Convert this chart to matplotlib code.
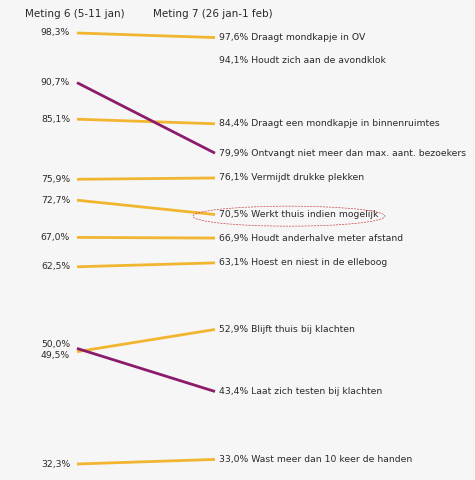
import matplotlib
matplotlib.use("Agg")
import matplotlib.pyplot as plt
from matplotlib.patches import Ellipse

# Naleving van gedragsregels: meting 6 versus meting 7 (percentages)
labels = [
    "Draagt mondkapje in OV",
    "Houdt zich aan de avondklok",
    "Draagt een mondkapje in binnenruimtes",
    "Ontvangt niet meer dan max. aant. bezoekers",
    "Vermijdt drukke plekken",
    "Werkt thuis indien mogelijk",
    "Houdt anderhalve meter afstand",
    "Hoest en niest in de elleboog",
    "Blijft thuis bij klachten",
    "Laat zich testen bij klachten",
    "Wast meer dan 10 keer de handen",
]
meting6 = [98.3, None, 85.1, 90.7, 75.9, 72.7, 67.0, 62.5, 49.5, 50.0, 32.3]
meting7 = [97.6, 94.1, 84.4, 79.9, 76.1, 70.5, 66.9, 63.1, 52.9, 43.4, 33.0]
series_colors = ["orange", "orange", "orange", "purple", "orange", "orange",
                 "orange", "orange", "orange", "purple", "orange"]
headers = ["Meting 6 (5-11 jan)", "Meting 7 (26 jan-1 feb)"]
highlight = "Werkt thuis indien mogelijk"

palette = {"orange": "#f2b530", "purple": "#8c1b6c"}
bg = "#f6f6f6"
txt = "#2a2a2a"
fs = 6.65


def fmt(v):
    return f"{v:.1f}".replace(".", ",") + "%"


W, H = 475, 480
fig = plt.figure(figsize=(W / 100, H / 100), dpi=100, facecolor=bg)
ax = fig.add_axes([0, 0, 1, 1])
ax.set_facecolor(bg)

# pixel layout of the two columns and the value scale
x0_px, x1_px = 77, 215
top_v, top_px, bot_v, bot_px = 98.3, 33, 32.3, 464
ppu = (bot_px - top_px) / (top_v - bot_v)
dx = x1_px - x0_px
ax.set_xlim(-x0_px / dx, (W - x0_px) / dx)
ax.set_ylim(top_v - (H - top_px) / ppu, top_v + top_px / ppu)
ax.axis("off")

# small vertical nudges for left labels that would otherwise overlap
left_nudge = {"Blijft thuis bij klachten": -3, "Laat zich testen bij klachten": 3}

for lab, a, b, c in zip(labels, meting6, meting7, series_colors):
    col = palette[c]
    if a is not None:
        ax.plot([0, 1], [a, b], color=col, lw=2.0, solid_capstyle="butt", zorder=2)
        ax.annotate(fmt(a), xy=(0, a), xytext=(-5, left_nudge.get(lab, 0)),
                    textcoords="offset points", ha="right", va="center",
                    fontsize=fs, color=txt)
    ax.annotate(f"{fmt(b)} {lab}", xy=(1, b), xytext=(3, 0),
                textcoords="offset points", ha="left", va="center",
                fontsize=fs, color=txt)
    if lab == highlight:
        ax.add_patch(Ellipse((1 + 74 / dx, b - 0.25), 192 / dx, 20 / ppu,
                             fill=False, ec="#c8474a", lw=0.5, ls=(0, (3, 1.5)),
                             zorder=3))

fig.text(25 / W, 1 - 14 / H, headers[0], ha="left", va="center",
         fontsize=7.5, color=txt)
fig.text(153 / W, 1 - 14 / H, headers[1], ha="left", va="center",
         fontsize=7.5, color=txt)

fig.savefig("out.png", dpi=100, facecolor=bg)
